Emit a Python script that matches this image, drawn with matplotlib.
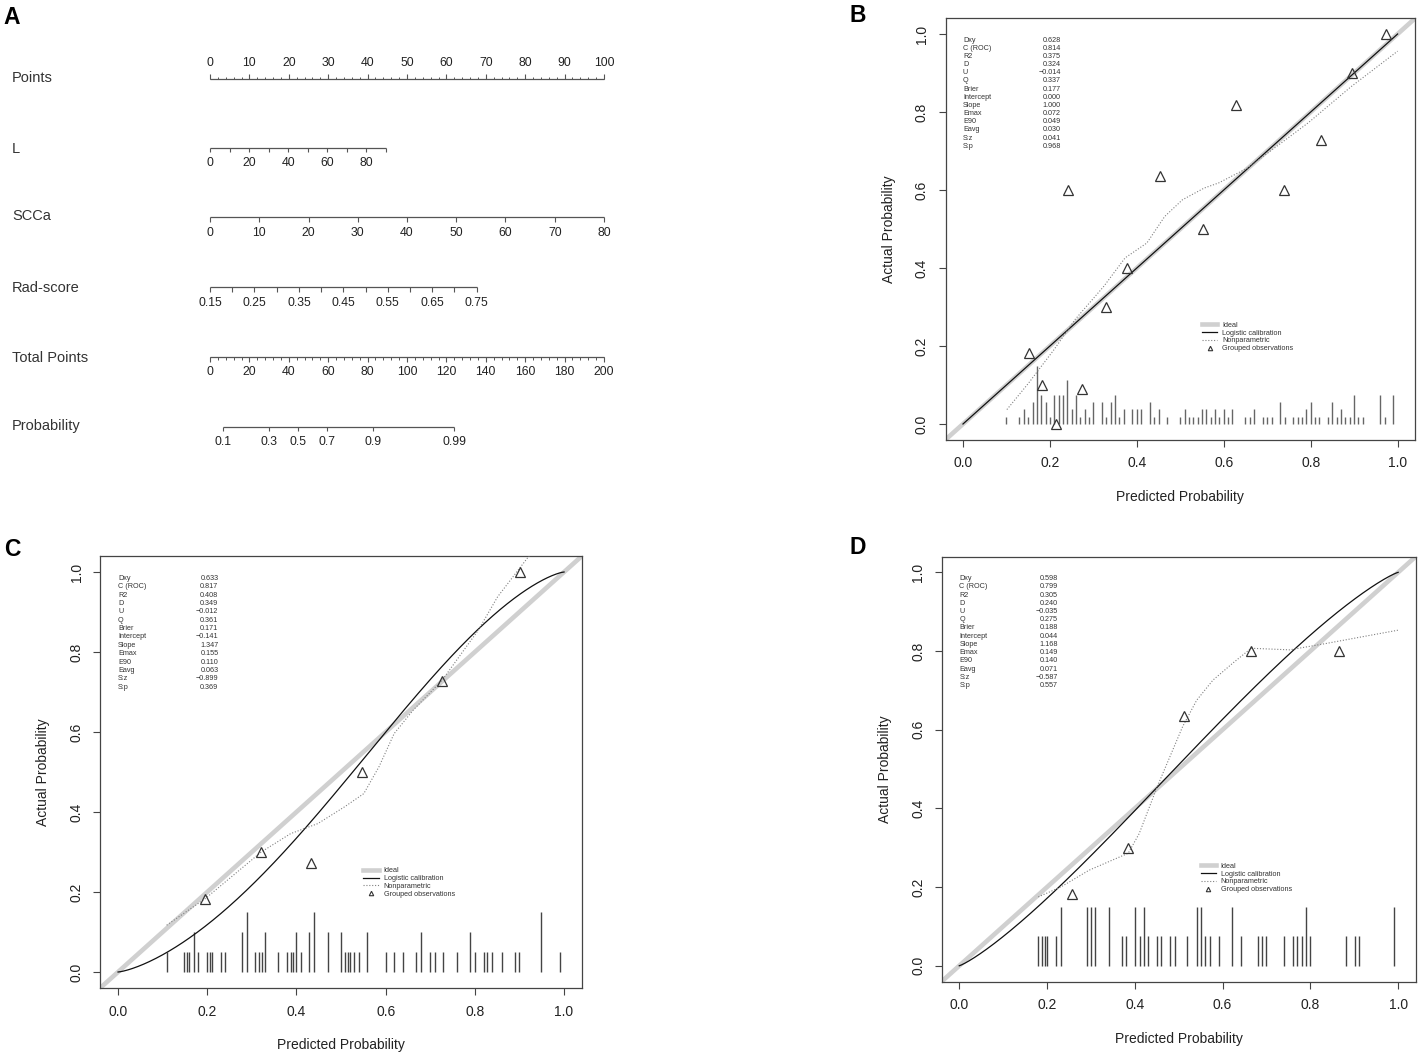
import numpy as np
import matplotlib
matplotlib.use('Agg')
import matplotlib.pyplot as plt
from matplotlib.lines import Line2D

plt.rcParams['font.family'] = ['Liberation Sans', 'DejaVu Sans']

# ---------------- data ----------------
# Nomogram (panel A)
points_major = list(range(0, 101, 10))
points_minor = list(range(0, 101, 2))
L_ticks = list(range(0, 91, 10))
L_labels = [0, 20, 40, 60, 80]
L_pts_per_unit = 0.4956
SCCa_ticks = list(range(0, 81, 10))
SCCa_pts_per_unit = 1.25
rad_ticks = [0.15, 0.20, 0.25, 0.30, 0.35, 0.40, 0.45, 0.50, 0.55, 0.60, 0.65, 0.70, 0.75]
rad_labels = [0.15, 0.25, 0.35, 0.45, 0.55, 0.65, 0.75]
rad_min = 0.15
rad_pts_per_unit = 112.8
total_minor = list(range(0, 201, 4))
total_labels = list(range(0, 201, 20))
prob_ticks = [0.1, 0.3, 0.5, 0.7, 0.9, 0.99]
prob_labels = ['0.1', '0.3', '0.5', '0.7', '0.9', '0.99']
tp_at_half = 44.7        # total points where probability = 0.5
tp_per_logit = 17.26     # total points per unit of log-odds

stat_names = ['Dxy', 'C (ROC)', 'R2', 'D', 'U', 'Q', 'Brier', 'Intercept', 'Slope',
              'Emax', 'E90', 'Eavg', 'S:z', 'S:p']
legend_labels = ['Ideal', 'Logistic calibration', 'Nonparametric', 'Grouped observations']

# Panel B
B_stats = ['0.628', '0.814', '0.375', '0.324', '\u22120.014', '0.337', '0.177', '0.000',
           '1.000', '0.072', '0.049', '0.030', '0.041', '0.968']
B_intercept, B_slope = 0.000, 1.000
B_grp_x = [0.974, 0.895, 0.629, 0.824, 0.454, 0.241, 0.739, 0.552, 0.378, 0.330, 0.153, 0.181, 0.273, 0.214]
B_grp_y = [1.000, 0.900, 0.818, 0.727, 0.636, 0.600, 0.600, 0.500, 0.400, 0.300, 0.182, 0.100, 0.091, 0.000]
B_np_x = [0.101, 0.151, 0.209, 0.258, 0.324, 0.373, 0.423, 0.464, 0.505, 0.555, 0.588, 0.654, 0.711, 0.794, 0.893, 1.000]
B_np_y = [0.037, 0.105, 0.190, 0.268, 0.353, 0.426, 0.464, 0.532, 0.575, 0.605, 0.618, 0.656, 0.703, 0.772, 0.865, 0.956]
B_rug_x = [0.10, 0.13, 0.14, 0.15, 0.16, 0.17, 0.18, 0.19, 0.20,
           0.21, 0.22, 0.23, 0.24, 0.25, 0.26, 0.27, 0.28, 0.29, 0.30,
           0.32, 0.33, 0.34, 0.35, 0.36, 0.37,
           0.39, 0.40, 0.41, 0.43, 0.44, 0.45, 0.47,
           0.50, 0.51, 0.52, 0.53, 0.54, 0.55, 0.56, 0.57, 0.58, 0.59, 0.60, 0.61, 0.62,
           0.65, 0.66, 0.67, 0.69, 0.70, 0.71, 0.73, 0.74,
           0.76, 0.77, 0.78, 0.79, 0.80, 0.81, 0.82,
           0.84, 0.85, 0.86, 0.87, 0.88, 0.89, 0.90, 0.91, 0.92,
           0.96, 0.97, 0.99]
B_rug_n = [1, 1, 2, 1, 3, 8, 4, 3, 1,
           4, 4, 4, 6, 2, 4, 1, 2, 1, 3,
           3, 1, 3, 4, 1, 2,
           2, 2, 2, 3, 1, 2, 1,
           1, 2, 1, 1, 1, 2, 2, 1, 2, 1, 2, 1, 2,
           1, 1, 2, 1, 1, 1, 3, 1,
           1, 1, 1, 2, 3, 1, 1,
           1, 3, 1, 2, 1, 1, 4, 1, 1,
           4, 1, 4]

# Panel C
C_stats = ['0.633', '0.817', '0.408', '0.349', '\u22120.012', '0.361', '0.171', '\u22120.141',
           '1.347', '0.155', '0.110', '0.063', '\u22120.899', '0.369']
C_intercept, C_slope = -0.141, 1.347
C_grp_x = [0.901, 0.727, 0.548, 0.321, 0.433, 0.195]
C_grp_y = [1.000, 0.727, 0.500, 0.300, 0.273, 0.182]
C_np_x = [0.109, 0.195, 0.321, 0.387, 0.448, 0.508, 0.551, 0.585, 0.619, 0.662, 0.727, 0.808, 0.851, 0.920, 0.990]
C_np_y = [0.117, 0.183, 0.300, 0.346, 0.371, 0.413, 0.446, 0.513, 0.596, 0.655, 0.730, 0.855, 0.938, 1.038, 1.140]
C_rug_x = [0.109, 0.149, 0.155, 0.160, 0.170, 0.179, 0.199, 0.207, 0.211, 0.230, 0.240, 0.279, 0.290,
           0.308, 0.317, 0.322, 0.329, 0.359, 0.379, 0.388, 0.392, 0.399, 0.410, 0.429, 0.439, 0.470,
           0.499, 0.509, 0.515, 0.521, 0.530, 0.540, 0.559, 0.600, 0.619, 0.639, 0.669, 0.680, 0.699,
           0.710, 0.729, 0.760, 0.790, 0.801, 0.820, 0.827, 0.839, 0.860, 0.890, 0.900, 0.949, 0.990]
C_rug_n = [1, 1, 1, 1, 2, 1, 1, 1, 1, 1, 1, 2, 3,
           1, 1, 1, 2, 1, 1, 1, 1, 2, 1, 2, 3, 2,
           2, 1, 1, 1, 1, 1, 2, 1, 1, 1, 1, 2, 1,
           1, 1, 1, 2, 1, 1, 1, 1, 1, 1, 1, 3, 1]

# Panel D
D_stats = ['0.598', '0.799', '0.305', '0.240', '\u22120.035', '0.275', '0.188', '0.044',
           '1.168', '0.149', '0.140', '0.071', '\u22120.587', '0.557']
D_intercept, D_slope = 0.044, 1.168
D_grp_x = [0.665, 0.865, 0.513, 0.385, 0.256]
D_grp_y = [0.800, 0.800, 0.636, 0.300, 0.182]
D_np_x = [0.180, 0.231, 0.296, 0.385, 0.410, 0.451, 0.509, 0.541, 0.578, 0.623, 0.665, 0.753, 0.835, 0.917, 1.000]
D_np_y = [0.175, 0.200, 0.243, 0.286, 0.336, 0.455, 0.608, 0.675, 0.726, 0.769, 0.807, 0.803, 0.819, 0.836, 0.853]
D_rug_x = [0.180, 0.189, 0.195, 0.201, 0.220, 0.231, 0.291, 0.300, 0.310, 0.341, 0.371, 0.380, 0.400,
           0.411, 0.420, 0.431, 0.451, 0.460, 0.480, 0.491, 0.520, 0.541, 0.550, 0.561, 0.571, 0.591,
           0.621, 0.641, 0.681, 0.690, 0.700, 0.740, 0.761, 0.770, 0.780, 0.790, 0.800, 0.881, 0.901,
           0.911, 0.990]
D_rug_n = [1, 1, 1, 1, 1, 2, 2, 2, 2, 2, 1, 1, 2,
           1, 2, 1, 1, 1, 1, 1, 1, 2, 2, 1, 1, 1,
           2, 1, 1, 1, 1, 1, 1, 1, 1, 2, 1, 1, 1,
           1, 2]

# ---------------- figure ----------------
W, H = 1422, 1057
fig = plt.figure(figsize=(W / 100, H / 100), dpi=100)
TXT = '#333333'
LINE = '#555555'

# ---------- Panel A: nomogram ----------
axA = fig.add_axes([210 / W, 1 - 460 / H, 394 / W, 420 / H])
axA.set_xlim(0, 100)
axA.set_ylim(460, 40)
axA.axis('off')
px = 100 / 394.0  # points per pixel
label_x = -198 * px
name_fs = 10.5
tick_fs = 8.8


def nomo_row(name, name_y, line_y, ticks_pts, lab_pts, labs, lab_y, up=False, tick_len=4.5,
             minor_pts=None, minor_len=2.5):
    axA.text(label_x, name_y, name, fontsize=name_fs, color=TXT, ha='left', va='center', clip_on=False)
    allp = list(ticks_pts) + (list(minor_pts) if minor_pts is not None else [])
    axA.plot([min(allp), max(allp)], [line_y, line_y], color=LINE, lw=0.9, clip_on=False,
             solid_capstyle='butt')
    sgn = -1 if up else 1
    axA.vlines(ticks_pts, line_y, line_y + sgn * tick_len, color=LINE, lw=0.8, clip_on=False)
    if minor_pts is not None:
        axA.vlines(minor_pts, line_y, line_y + sgn * minor_len, color=LINE, lw=0.7, clip_on=False)
    for p, s in zip(lab_pts, labs):
        axA.text(p, lab_y, s, fontsize=tick_fs, color='#222222', ha='center', va='center', clip_on=False)


nomo_row('Points', 77.5, 79, points_major, points_major, [str(v) for v in points_major], 62.5,
         up=True, tick_len=5, minor_pts=points_minor, minor_len=2.5)
nomo_row('L', 149, 147.7, [v * L_pts_per_unit for v in L_ticks], [v * L_pts_per_unit for v in L_labels],
         [str(v) for v in L_labels], 162.7)
nomo_row('SCCa', 216, 217.3, [v * SCCa_pts_per_unit for v in SCCa_ticks],
         [v * SCCa_pts_per_unit for v in SCCa_ticks], [str(v) for v in SCCa_ticks], 233.3)
nomo_row('Rad-score', 287.7, 287.3, [(v - rad_min) * rad_pts_per_unit for v in rad_ticks],
         [(v - rad_min) * rad_pts_per_unit for v in rad_labels], ['%.2f' % v for v in rad_labels], 302.7)
nomo_row('Total Points', 358, 357.3, [v / 2 for v in total_labels], [v / 2 for v in total_labels],
         [str(v) for v in total_labels], 372.3, minor_pts=[v / 2 for v in total_minor], minor_len=3)
prob_pts = [(tp_at_half + np.log(p / (1 - p)) * tp_per_logit) / 2 for p in prob_ticks]
nomo_row('Probability', 426, 426.7, prob_pts, prob_pts, prob_labels, 442.3)


# ---------- calibration panels ----------
def calib(rect_px, rug_x, rug_n, grp_x, grp_y, np_x, np_y, intercept, slope, stats, rug_color):
    left, top, right, bottom = rect_px
    ax = fig.add_axes([left / W, 1 - bottom / H, (right - left) / W, (bottom - top) / H])
    wpx, hpx = right - left, bottom - top
    ax.set_xlim(-0.04, 1.04)
    ax.set_ylim(-0.04, 1.04)
    ax.axline((0, 0), (1, 1), color='#d0d0d0', lw=3.3, zorder=1)
    xs = np.linspace(0, 1, 401)
    with np.errstate(divide='ignore'):
        lg = np.log(xs / (1 - xs))
        ys = 1 / (1 + np.exp(-(intercept + slope * lg)))
    ax.plot(xs, ys, color='#111111', lw=0.9, zorder=3)
    ax.plot(np_x, np_y, color='#808080', lw=0.8, ls=(0, (1, 1.6)), zorder=3)
    ax.plot(grp_x, grp_y, ls='none', marker='^', ms=7.5, mfc='none', mec='#333333', mew=0.9, zorder=4)
    n = np.array(rug_n, dtype=float)
    ax.vlines(rug_x, 0, 0.15 * n / n.max(), color=rug_color, lw=1.0, zorder=2)
    # statistics block
    for i, (nm, val) in enumerate(zip(stat_names, stats)):
        yy = 0.984 - i * 0.0209
        ax.text(0.0, yy, nm, fontsize=5.2, color=TXT, ha='left', va='center')
        ax.text(0.225, yy, val, fontsize=5.2, color=TXT, ha='right', va='center')
    handles = [Line2D([], [], color='#d0d0d0', lw=3.3),
               Line2D([], [], color='#111111', lw=0.9),
               Line2D([], [], color='#808080', lw=0.8, ls=(0, (1, 1.6))),
               Line2D([], [], ls='none', marker='^', ms=3.2, mfc='none', mec='#333333', mew=0.8)]
    ax.legend(handles, legend_labels, loc='upper left', bbox_to_anchor=(0.55, 0.262),
              bbox_transform=ax.transData, frameon=False, fontsize=5.2, handlelength=2.1,
              handletextpad=0.7, labelspacing=0.1, borderpad=0, borderaxespad=0,
              labelcolor=TXT)
    ticks = [0.0, 0.2, 0.4, 0.6, 0.8, 1.0]
    ax.set_xticks(ticks)
    ax.set_yticks(ticks)
    ax.set_xticklabels(['%.1f' % t for t in ticks])
    ax.set_yticklabels(['%.1f' % t for t in ticks], rotation=90, va='center')
    ax.tick_params(direction='out', length=5, width=0.8, color='#444444', labelsize=10,
                   labelcolor='#222222', pad=7)
    for s in ax.spines.values():
        s.set_color('#444444')
        s.set_linewidth(0.9)
    ax.set_xlabel('Predicted Probability', fontsize=10, color='#222222')
    ax.set_ylabel('Actual Probability', fontsize=10, color='#222222')
    ax.xaxis.set_label_coords(0.5, -50 / hpx)
    ax.yaxis.set_label_coords(-50 / wpx, 0.5)
    return ax


calib((945.6, 18.4, 1415.0, 439.6), B_rug_x, B_rug_n, B_grp_x, B_grp_y, B_np_x, B_np_y,
      B_intercept, B_slope, B_stats, '#666666')
calib((100.2, 556.0, 581.9, 988.0), C_rug_x, C_rug_n, C_grp_x, C_grp_y, C_np_x, C_np_y,
      C_intercept, C_slope, C_stats, '#444444')
calib((941.7, 556.6, 1415.7, 981.5), D_rug_x, D_rug_n, D_grp_x, D_grp_y, D_np_x, D_np_y,
      D_intercept, D_slope, D_stats, '#444444')

# panel letters
for letter, x, y in [('A', 12, 17), ('B', 858, 16), ('C', 12, 550), ('D', 858, 548)]:
    fig.text(x / W, 1 - y / H, letter, fontsize=16.5, fontweight='bold', ha='center', va='center',
             color='black')

fig.savefig('out.png', dpi=100)
